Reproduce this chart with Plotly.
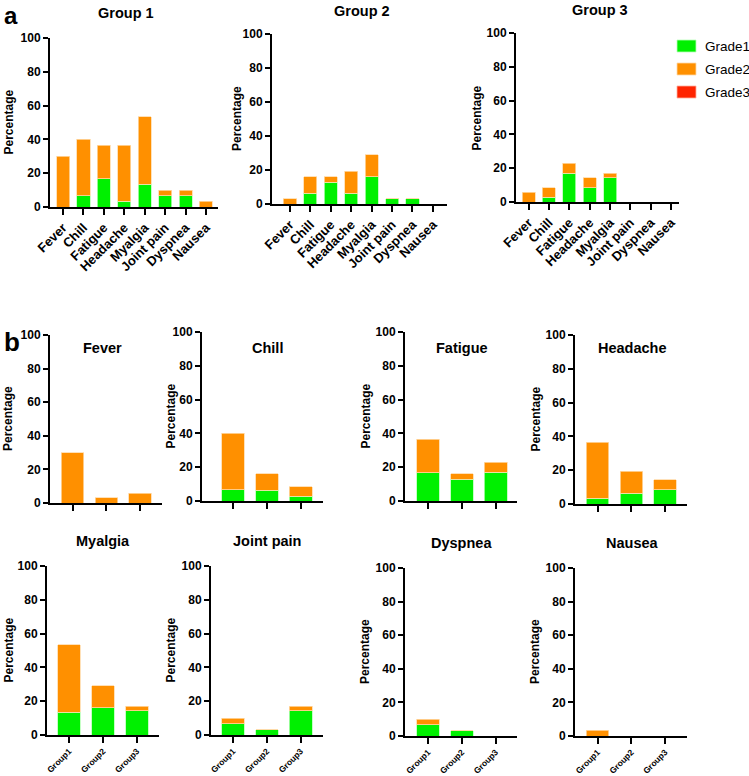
import plotly.graph_objects as go

W, H = 749, 776

# ---------------- data ----------------
categories = ["Fever", "Chill", "Fatigue", "Headache", "Myalgia", "Joint pain", "Dyspnea", "Nausea"]
groups = ["Group1", "Group2", "Group3"]
grades = ["Grade1", "Grade2", "Grade3"]

# panel a (per group, per symptom, %)
g1_grade1 = [0, 6.67, 16.67, 3.33, 13.33, 6.67, 6.67, 0]
g1_grade2 = [30, 33.33, 20, 33.33, 40, 3.33, 3.33, 3.33]
g1_grade3 = [0, 0, 0, 0, 0, 0, 0, 0]
g2_grade1 = [0, 6.45, 12.9, 6.45, 16.13, 3.23, 3.23, 0]
g2_grade2 = [3.23, 9.68, 3.23, 12.9, 12.9, 0, 0, 0]
g2_grade3 = [0, 0, 0, 0, 0, 0, 0, 0]
g3_grade1 = [0, 2.86, 17.14, 8.57, 14.29, 0, 0, 0]
g3_grade2 = [5.71, 5.71, 5.71, 5.71, 2.86, 0, 0, 0]
g3_grade3 = [0, 0, 0, 0, 0, 0, 0, 0]

# panel b (per symptom, per group, %)
fever_grade1 = [0, 0, 0]
fever_grade2 = [30, 3.23, 5.71]
chill_grade1 = [6.67, 6.45, 2.86]
chill_grade2 = [33.33, 9.68, 5.71]
fatigue_grade1 = [16.67, 12.9, 17.14]
fatigue_grade2 = [20, 3.23, 5.71]
headache_grade1 = [3.33, 6.45, 8.57]
headache_grade2 = [33.33, 12.9, 5.71]
myalgia_grade1 = [13.33, 16.13, 14.29]
myalgia_grade2 = [40, 12.9, 2.86]
jointpain_grade1 = [6.67, 3.23, 14.29]
jointpain_grade2 = [3.33, 0, 2.86]
dyspnea_grade1 = [6.67, 3.23, 0]
dyspnea_grade2 = [3.33, 0, 0]
nausea_grade1 = [0, 0, 0]
nausea_grade2 = [3.33, 0, 0]
zeros3 = [0, 0, 0]

GREEN = "#00F000"
ORANGE = "#FF9000"
RED = "#FF2400"
colors = {"Grade1": GREEN, "Grade2": ORANGE, "Grade3": RED}
edges = {"Grade1": "#B8FFB8", "Grade2": "#FFD9A8", "Grade3": "#FFB0A0"}
FONT = "Arial, Liberation Sans, sans-serif"

fig = go.Figure()

# panel specs: title, x categories, series, pixel box (x0, x1, ytop(100), ybottom(0)), x range, bar width, tick size
panels = [
    ("Group 1", categories, [g1_grade1, g1_grade2, g1_grade3], (50, 218, 38, 207), (-0.64, 7.59), 0.64, 13),
    ("Group 2", categories, [g2_grade1, g2_grade2, g2_grade3], (272, 447, 34, 204), (-0.88, 7.69), 0.64, 13),
    ("Group 3", categories, [g3_grade1, g3_grade2, g3_grade3], (516, 679, 33, 202), (-0.62, 7.39), 0.64, 13),
    ("Fever", groups, [fever_grade1, fever_grade2, zeros3], (50, 162, 335, 503), (-0.67, 2.65), 0.67, 0),
    ("Chill", groups, [chill_grade1, chill_grade2, zeros3], (202, 323, 332, 501), (-0.92, 2.66), 0.67, 0),
    ("Fatigue", groups, [fatigue_grade1, fatigue_grade2, zeros3], (405, 517, 332, 501), (-0.68, 2.63), 0.67, 0),
    ("Headache", groups, [headache_grade1, headache_grade2, zeros3], (575, 687, 335, 504), (-0.67, 2.65), 0.67, 0),
    ("Myalgia", groups, [myalgia_grade1, myalgia_grade2, zeros3], (47, 159, 566, 735), (-0.65, 2.65), 0.67, 8.5),
    ("Joint pain", groups, [jointpain_grade1, jointpain_grade2, zeros3], (211, 323, 566, 735), (-0.65, 2.66), 0.67, 8.5),
    ("Dyspnea", groups, [dyspnea_grade1, dyspnea_grade2, zeros3], (405, 517, 568, 736), (-0.68, 2.63), 0.67, 8.5),
    ("Nausea", groups, [nausea_grade1, nausea_grade2, zeros3], (575, 687, 568, 736), (-0.67, 2.65), 0.67, 8.5),
]

title_pos = [(126, 13), (362, 11), (600, 10),
             (102, 348), (267, 348), (462, 348), (632, 348),
             (103, 541), (267, 541), (462, 543), (632, 543)]
ytitle_x = [8, 237, 476, 8, 170, 365, 535, 8, 170, 365, 535]

annotations = []
shapes = []
for i, (title, cats, series, box, xr, bw, tsize) in enumerate(panels):
    n = i + 1
    xa = "x" if n == 1 else f"x{n}"
    ya = "y" if n == 1 else f"y{n}"
    x0, x1, yt, yb = box
    for gname, vals in zip(grades, series):
        fig.add_trace(go.Bar(
            x=cats, y=vals, name=gname, xaxis=xa, yaxis=ya, width=bw,
            marker=dict(color=colors[gname],
                        line=dict(color=edges[gname], width=0 if gname == "Grade3" else 0.8)),
            showlegend=False, hoverinfo="x+y+name",
        ))
    xkey = "xaxis" if n == 1 else f"xaxis{n}"
    ykey = "yaxis" if n == 1 else f"yaxis{n}"
    fig.layout[xkey] = dict(
        domain=[x0 / W, x1 / W], anchor=ya, type="category", range=list(xr),
        showline=True, linecolor="black", linewidth=2, ticks="outside", ticklen=6,
        tickwidth=2, tickcolor="black", showgrid=False, zeroline=False,
        showticklabels=tsize > 0, tickangle=-45, automargin=False,
        tickfont=dict(family=FONT, size=tsize if tsize else 10, color="black", weight="bold"),
    )
    fig.layout[ykey] = dict(
        domain=[1 - yb / H, 1 - yt / H], anchor=xa, range=[0, 100],
        tickvals=[0, 20, 40, 60, 80, 100], automargin=False,
        showline=True, linecolor="black", linewidth=2, ticks="outside", ticklen=5,
        tickwidth=2, tickcolor="black", showgrid=False, zeroline=False,
        tickfont=dict(family=FONT, size=12, color="black", weight="bold"),
    )
    tx, ty = title_pos[i]
    annotations.append(dict(text=f"<b>{title}</b>", x=tx / W, y=1 - ty / H, xref="paper", yref="paper",
                            showarrow=False, xanchor="center", yanchor="middle",
                            font=dict(family=FONT, size=14.5, color="black")))
    annotations.append(dict(text="<b>Percentage</b>", x=ytitle_x[i] / W, y=1 - (yt + yb) / 2 / H,
                            xref="paper", yref="paper", showarrow=False, textangle=-90,
                            xanchor="center", yanchor="middle",
                            font=dict(family=FONT, size=12, color="black")))

annotations.append(dict(text="<b>a</b>", x=2 / W, y=1.0, xref="paper", yref="paper",
                        showarrow=False, xanchor="left", yanchor="top",
                        font=dict(family=FONT, size=24, color="black")))
annotations.append(dict(text="<b>b</b>", x=2 / W, y=1 - 342 / H, xref="paper", yref="paper",
                        showarrow=False, xanchor="left", yanchor="middle",
                        font=dict(family=FONT, size=26, color="black")))

# legend (drawn as swatches + labels to keep it inside the page)
legend_y = [46, 69, 92]
for gname, ly in zip(grades, legend_y):
    shapes.append(dict(type="rect", xref="paper", yref="paper",
                       x0=677 / W, x1=696 / W, y0=1 - (ly + 6) / H, y1=1 - (ly - 6) / H,
                       fillcolor=colors[gname], line=dict(color=edges[gname], width=0.8)))
    annotations.append(dict(text=gname, x=703 / W, y=1 - ly / H, xref="paper", yref="paper",
                            showarrow=False, xanchor="left", yanchor="middle",
                            font=dict(family=FONT, size=13.5, color="black")))

fig.update_layout(
    width=W, height=H, margin=dict(l=0, r=0, t=0, b=0, autoexpand=False),
    paper_bgcolor="white", plot_bgcolor="white",
    barmode="stack",
    annotations=annotations, shapes=shapes,
    showlegend=False,
)

fig.write_html(
    "out.html",
    config={"displayModeBar": False},
    post_script="document.body.style.margin='0';document.body.style.overflow='hidden';",
)
